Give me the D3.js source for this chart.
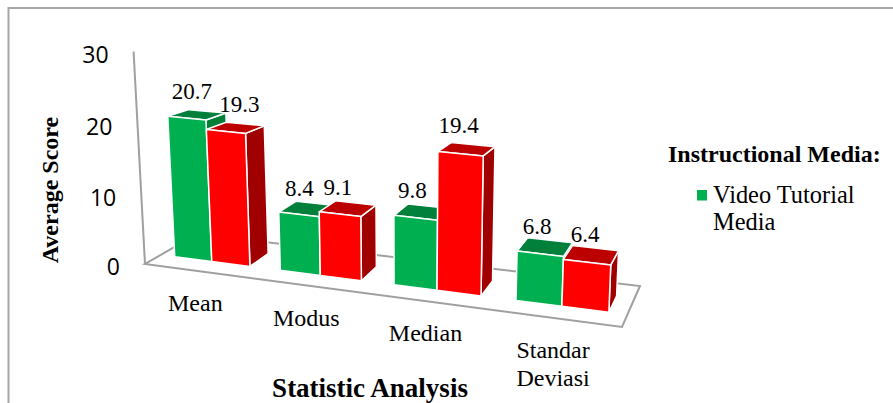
<!DOCTYPE html>
<html>
<head>
<meta charset="utf-8">
<style>
  html, body { margin: 0; padding: 0; background: #fff; }
  svg { display: block; }
  text { fill: #000; }
  .serif { font-family: "Liberation Serif", serif; }
  .sans { font-family: "Open Sans", sans-serif; }
</style>
<script src="https://cdn.jsdelivr.net/npm/d3@7/dist/d3.min.js"></script>
</head>
<body>
<svg id="chart" width="893" height="403"></svg>
<script>
const categories = ["Mean", "Modus", "Median", "Standar Deviasi"];
const seriesKeys = ["video", "other"];
const videoScores = [20.7, 8.4, 9.8, 6.8];
const otherScores = [19.3, 9.1, 19.4, 6.4];
const valueTicks = [0, 10, 20, 30];
const legendTitle = "Instructional Media:";
const legendLines = ["Video Tutorial", "Media"];
const xTitle = "Statistic Analysis";
const yTitle = "Average Score";

const seriesValues = { video: videoScores, other: otherScores };
const palette = {
  video: { front: "#00B050", top: "#00803A", side: "#007F37" },
  other: { front: "#FF0000", top: "#BC0000", side: "#A00000" }
};

const svg = d3.select("#chart");

// Scales in chart space: t runs along the categories, d runs from the front
// of the floor to its back, v is the score.
const xBand = d3.scaleBand().domain(categories).range([0, 1])
  .paddingInner(0.28).paddingOuter(0.14);
const xSeries = d3.scaleBand().domain(seriesKeys).range([0, xBand.bandwidth()]);
const barDepth = { front: 0.3, back: 0.7 };

const frontEdgeX = d3.scaleLinear().domain([0, 1]).range([145, 622]);
const frontEdgeY = d3.scaleLinear().domain([0, 1]).range([264, 327]);
const backEdgeX = d3.scaleLinear().domain([0, 1]).range([197, 640]);
const backEdgeY = d3.scaleLinear().domain([0, 1]).range([234, 286]);
const unitByX = d3.scaleLinear().domain([170, 610]).range([6.78, 7.4]);
const leanByX = d3.scaleLinear().domain([405, 610]).range([0, 0.3]);
const unitByDepth = d3.scaleLinear().domain([0, 0.3, 1]).range([1.05, 1, 0.925]);

// Oblique perspective: the axis compresses slightly towards the far end, the
// uprights fan out around a central column and grow towards the right.
function project(t, d, v) {
  const u = 0.86 * t + 0.14 * t * t;
  const bx = d3.interpolateNumber(frontEdgeX(u), backEdgeX(u))(d);
  const by = d3.interpolateNumber(frontEdgeY(u), backEdgeY(u))(d);
  return [bx + leanByX(bx) * v, by - unitByX(bx) * unitByDepth(d) * v];
}

const path = d3.line();

// Frame around the plot
svg.append("path")
  .attr("d", path([[8.5, 403], [8.5, 8], [893, 8]]))
  .attr("fill", "none").attr("stroke", "#A6A6A6").attr("stroke-width", 2);

// Floor and the single visible wall edge
const gridColor = "#A0A0A0";
svg.append("path")
  .attr("d", path([project(0, 0, 0), project(1, 0, 0), project(1, 1, 0), project(0, 1, 0)]) + "Z")
  .attr("fill", "#fff").attr("stroke", gridColor).attr("stroke-width", 2);
svg.append("path")
  .attr("d", path([project(0, 0, 0), project(0, 0, 30)]))
  .attr("stroke", gridColor).attr("stroke-width", 2).attr("fill", "none");

// Value axis labels follow the wall edge
svg.append("g").selectAll("text").data(valueTicks).join("text")
  .attr("class", "sans")
  .attr("x", d => project(0, 0, d)[0] - 25)
  .attr("y", d => project(0, 0, d)[1] + 11 + (d === 10 || d === 20 ? 1.5 : 0))
  .attr("text-anchor", "end")
  .attr("font-size", 23)
  .text(d => d);

// Bars, left to right, each as side, top and front faces
const bars = svg.append("g");
categories.forEach((cat, i) => {
  seriesKeys.forEach(key => {
    const v = seriesValues[key][i];
    const t0 = xBand(cat) + xSeries(key);
    const t1 = t0 + xSeries.bandwidth();
    const f = barDepth.front, b = barDepth.back;
    const faces = [
      { fill: palette[key].side, pts: [project(t1, f, 0), project(t1, b, 0), project(t1, b, v), project(t1, f, v)] },
      { fill: palette[key].top, pts: [project(t0, f, v), project(t1, f, v), project(t1, b, v), project(t0, b, v)] },
      { fill: palette[key].front, pts: [project(t0, f, 0), project(t1, f, 0), project(t1, f, v), project(t0, f, v)] }
    ];
    bars.selectAll(null).data(faces).join("path")
      .attr("d", d => path(d.pts) + "Z")
      .attr("fill", d => d.fill)
      .attr("stroke", "#fff")
      .attr("stroke-width", 1.5)
      .attr("stroke-linejoin", "round");
  });
});

// Value labels sit above the top face of each bar, a little higher on the
// tall bars; a few were nudged sideways
const labelShift = [[-5, 4], [-8, -10], [-10, -8], [-8, -6]];
const labelRows = categories.flatMap((cat, i) => seriesKeys.map((key, j) => {
  const t = xBand(cat) + xSeries(key) + xSeries.bandwidth() / 2;
  const p = project(t, (barDepth.front + barDepth.back) / 2, seriesValues[key][i]);
  return { x: p[0] + labelShift[i][j], y: p[1], v: seriesValues[key][i] };
}));
svg.append("g").selectAll("text").data(labelRows).join("text")
  .attr("class", "serif")
  .attr("x", d => d.x)
  .attr("y", d => d.y - 11.5 - 0.22 * d.v)
  .attr("text-anchor", "middle")
  .attr("font-size", 23)
  .text(d => d.v.toFixed(1));

// Category labels step down alongside the front edge of the floor
const categoryLabels = svg.append("g");
categories.forEach((cat, i) => {
  const t = xBand(cat) + xBand.bandwidth() / 2;
  const p = project(t, 0, 0);
  const lines = cat.split(" ");
  const el = categoryLabels.append("text")
    .attr("class", "serif")
    .attr("font-size", 24)
    .attr("text-anchor", "middle");
  lines.forEach((ln, j) => {
    el.append("tspan")
      .attr("x", p[0] - 2)
      .attr("y", p[1] + 40 + j * 28)
      .text(ln);
  });
});

// Axis titles
svg.append("text")
  .attr("class", "serif")
  .attr("x", 370).attr("y", 397)
  .attr("text-anchor", "middle")
  .attr("font-size", 27).attr("font-weight", "bold")
  .text(xTitle);
svg.append("text")
  .attr("class", "serif")
  .attr("transform", "translate(58,190) rotate(-90)")
  .attr("text-anchor", "middle")
  .attr("font-size", 24).attr("font-weight", "bold")
  .text(yTitle);

// Legend
svg.append("text")
  .attr("class", "serif")
  .attr("x", 668).attr("y", 162)
  .attr("font-size", 24).attr("font-weight", "bold")
  .text(legendTitle);
svg.append("rect")
  .attr("x", 697).attr("y", 190).attr("width", 10).attr("height", 10.5)
  .attr("fill", palette.video.front);
svg.append("g").selectAll("text").data(legendLines).join("text")
  .attr("class", "serif")
  .attr("x", 713)
  .attr("y", (d, i) => 203 + i * 27)
  .attr("font-size", 24.4)
  .text(d => d);
</script>
</body>
</html>
